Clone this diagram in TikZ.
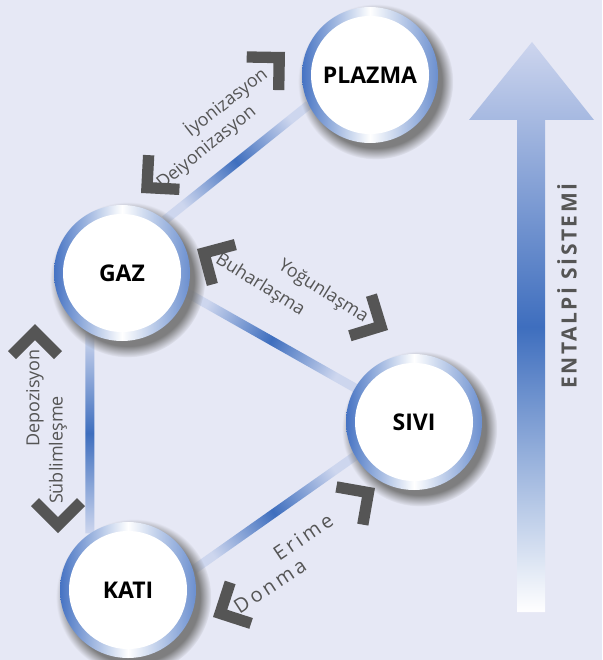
\documentclass[tikz,border=0pt]{standalone}
\usepackage{fontspec}
\setmainfont{Open Sans}
\usetikzlibrary{calc,shadows,fadings}
\definecolor{bgblue}{RGB}{230,232,245}
\definecolor{ringblue}{RGB}{70,115,195}
\definecolor{barblue}{RGB}{62,110,190}
\definecolor{barlight}{RGB}{205,214,238}
\definecolor{arrowtop}{RGB}{205,213,238}
\definecolor{txtgray}{RGB}{85,85,85}
\pgfdeclarelayer{background}
\pgfsetlayers{background,main}

\begin{document}
\begin{tikzpicture}[x=1pt, y=-1pt,
    phase/.style={circle, minimum size=136pt, inner sep=0pt, font=\fontsize{23}{25}\selectfont\bfseries,
      left color=ringblue, right color=ringblue!80, middle color=white,
      circular drop shadow={shadow xshift=5pt, shadow yshift=-6pt, shadow scale=1.14, opacity=.9, fill=black!55},
      path picture={\fill[white] (path picture bounding box.center) circle (59pt);}},
    lbl/.style={text=txtgray, font=\fontsize{18}{20}\selectfont, inner sep=1pt},
    spaced/.style={font=\fontsize{20}{22}\selectfont\addfontfeature{LetterSpace=16}},
    barshade/.style={left color=barlight, right color=barlight, middle color=barblue},
    chevron/.pic={\fill[txtgray] (-27,-27) -- (0,0) -- (-27,27) -- (-35,19) -- (-16,0) -- (-35,-19) -- cycle;}]
        % Define nodes
        \node (gaz) [phase] at (122,273) {GAZ};
        \node (plazma) [phase] at (370,75) {PLAZMA};
        \node (sivi) [phase] at (414,422) {SIVI};
        \node (kati) [phase] at (128,590) {KATI};

        % Background and bars
        \begin{pgfonlayer}{background}
            \fill[bgblue] (0,0) rectangle (602,660);
            \shade[barshade, shading angle=-52] ($(gaz.51)!4.5pt!90:(plazma.206)$) -- ($(plazma.206)!4.5pt!-90:(gaz.51)$) -- ($(plazma.206)!4.5pt!90:(gaz.51)$) -- ($(gaz.51)!4.5pt!-90:(plazma.206)$) -- cycle;
            \shade[barshade, shading angle=62] ($(gaz.-17)!4.5pt!90:(sivi.150)$) -- ($(sivi.150)!4.5pt!-90:(gaz.-17)$) -- ($(sivi.150)!4.5pt!90:(gaz.-17)$) -- ($(gaz.-17)!4.5pt!-90:(sivi.150)$) -- cycle;
            \shade[barshade, shading angle=0] ($(gaz.242)!4.5pt!90:(kati.124)$) -- ($(kati.124)!4.5pt!-90:(gaz.242)$) -- ($(kati.124)!4.5pt!90:(gaz.242)$) -- ($(gaz.242)!4.5pt!-90:(kati.124)$) -- cycle;
            \shade[barshade, shading angle=-54] ($(kati.17)!4.5pt!90:(sivi.210)$) -- ($(sivi.210)!4.5pt!-90:(kati.17)$) -- ($(sivi.210)!4.5pt!90:(kati.17)$) -- ($(kati.17)!4.5pt!-90:(sivi.210)$) -- cycle;
        \end{pgfonlayer}

        % Enthalpy arrow
        \shade[top color=arrowtop, bottom color=white, middle color=barblue] (517,612) -- (517,120) -- (469,120) -- (532,42) -- (594,120) -- (545,120) -- (545,612) -- cycle;
        \node (entalpi) [rotate=90, text=txtgray, font=\fontsize{21}{23}\selectfont\bfseries\addfontfeature{LetterSpace=12}] at (567,286) {ENTALPİ SİSTEMİ};

        % Chevrons
        \pic[rotate=44] at (285,52) {chevron};
        \pic[rotate=222] at (141,193) {chevron};
        \pic[rotate=150] at (197,249) {chevron};
        \pic[rotate=-28] at (388,330) {chevron};
        \pic[rotate=90] at (35,324) {chevron};
        \pic[rotate=-90] at (58,533) {chevron};
        \pic[rotate=35] at (375,488) {chevron};
        \pic[rotate=207] at (213,617) {chevron};

        % Labels
        \node (iyon) [lbl, rotate=38] at (226,102) {İyonizasyon};
        \node (deiyon) [lbl, rotate=39] at (207,148) {Deiyonizasyon};
        \node (yogun) [lbl, rotate=-32] at (323,292) {Yoğunlaşma};
        \node (buhar) [lbl, rotate=-32] at (260,285) {Buharlaşma};
        \node (depoz) [lbl, rotate=90] at (35,398) {Depozisyon};
        \node (sublim) [lbl, rotate=90] at (58,450) {Süblimleşme};
        \node (erime) [lbl, spaced, rotate=34] at (303,537) {Erime};
        \node (donma) [lbl, spaced, rotate=33] at (270,586) {Donma};
    \end{tikzpicture}
\end{document}
